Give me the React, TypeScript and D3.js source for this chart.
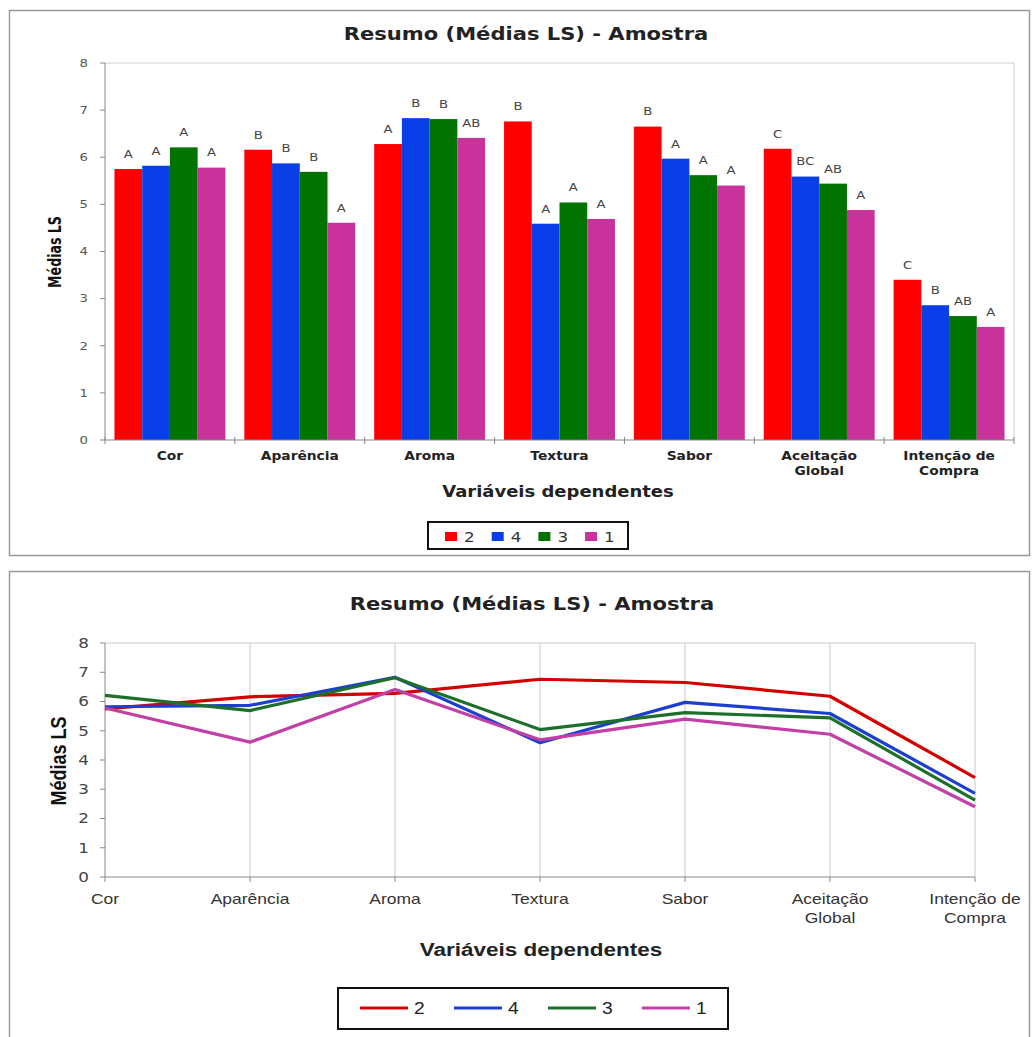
import React from "react";
import * as d3 from "d3";

const categories = ["Cor", "Aparência", "Aroma", "Textura", "Sabor", "Aceitação Global", "Intenção de Compra"];
const categoryLines = [["Cor"], ["Aparência"], ["Aroma"], ["Textura"], ["Sabor"], ["Aceitação", "Global"], ["Intenção de", "Compra"]];
const seriesNames = ["2", "4", "3", "1"];

const amostra2 = [5.75, 6.16, 6.28, 6.76, 6.65, 6.18, 3.40];
const amostra4 = [5.82, 5.87, 6.83, 4.59, 5.97, 5.59, 2.86];
const amostra3 = [6.21, 5.69, 6.81, 5.04, 5.62, 5.44, 2.63];
const amostra1 = [5.78, 4.61, 6.41, 4.69, 5.40, 4.88, 2.40];

const letras2 = ["A", "B", "A", "B", "B", "C", "C"];
const letras4 = ["A", "B", "B", "A", "A", "BC", "B"];
const letras3 = ["A", "B", "B", "A", "A", "AB", "AB"];
const letras1 = ["A", "A", "AB", "A", "A", "A", "A"];

const yTicks = [0, 1, 2, 3, 4, 5, 6, 7, 8];

const barColors = ["#ff0000", "#0a3ee6", "#007300", "#c8329a"];
const lineColors = ["#d40000", "#1c3fcf", "#1d6f2a", "#c13fa6"];

const seriesValues = [amostra2, amostra4, amostra3, amostra1];
const seriesLetters = [letras2, letras4, letras3, letras1];

const title = "Resumo (Médias LS) - Amostra";
const yTitle = "Médias LS";
const xTitle = "Variáveis dependentes";

const DV = "'DejaVu Sans', Verdana, sans-serif";
const LIB = "'Liberation Sans', Arial, sans-serif";
const COND = "'DejaVu Sans Condensed', 'Liberation Sans Narrow', 'Arial Narrow', sans-serif";

function T({ x, y, sx = 1.2, rotate = 0, anchor = "middle", size = 12, weight = "normal", family = DV, fill = "#222", children }: any) {
  return (
    <g transform={`translate(${x},${y}) scale(${sx},1)${rotate ? ` rotate(${rotate})` : ""}`}>
      <text textAnchor={anchor} fontSize={size} fontWeight={weight} fontFamily={family} fill={fill} dy="0.35em" fontStretch={family === COND ? "condensed" : undefined}>
        {children}
      </text>
    </g>
  );
}

function BarChart() {
  const left = 105, right = 1014, top = 63, bottom = 440;
  const x0 = d3.scaleBand<string>().domain(categories).range([left, right]).paddingInner(0.146).paddingOuter(0.073);
  const x1 = d3.scaleBand<string>().domain(seriesNames).range([0, x0.bandwidth()]);
  const y = d3.scaleLinear().domain([0, 8]).range([bottom, top]);
  const step = x0.step();
  const boundaries = d3.range(categories.length + 1).map((i) => left + i * (right - left) / categories.length);
  return (
    <g>
      <rect x={9.5} y={10.5} width={1020} height={545} fill="#fff" stroke="#9a9a9a" strokeWidth={1.5} />
      <T x={526} y={34} sx={1.24} size={17} weight="bold">{title}</T>
      <line x1={left} x2={right} y1={top} y2={top} stroke="#d0d0d0" />
      <line x1={right} x2={right} y1={top} y2={bottom} stroke="#d0d0d0" />
      {seriesValues.map((vals, si) =>
        vals.map((v, ci) => (
          <rect key={`b${si}-${ci}`} x={(x0(categories[ci]) as number) + (x1(seriesNames[si]) as number)} y={y(v)} width={x1.bandwidth()} height={y(0) - y(v)} fill={barColors[si]} />
        ))
      )}
      {seriesValues.map((vals, si) =>
        vals.map((v, ci) => (
          <T key={`l${si}-${ci}`} x={(x0(categories[ci]) as number) + (x1(seriesNames[si]) as number) + x1.bandwidth() / 2} y={y(v) - 15} size={11} fill="#444">
            {seriesLetters[si][ci]}
          </T>
        ))
      )}
      <line x1={left} x2={left} y1={top} y2={bottom} stroke="#888" />
      <line x1={left} x2={right} y1={bottom} y2={bottom} stroke="#888" />
      {yTicks.map((t) => (
        <g key={`yt${t}`}>
          <line x1={left - 5} x2={left} y1={y(t)} y2={y(t)} stroke="#888" />
          <T x={88} y={y(t)} anchor="end" size={11} fill="#555">{t}</T>
        </g>
      ))}
      {boundaries.map((b, i) => (
        <line key={`xb${i}`} x1={b} x2={b} y1={bottom - 3} y2={bottom + 4} stroke="#888" />
      ))}
      {categoryLines.map((lines, ci) =>
        lines.map((ln, li) => (
          <T key={`xl${ci}-${li}`} x={(x0(categories[ci]) as number) + x0.bandwidth() / 2} y={456 + li * 15} size={11.5} weight="bold" fill="#222">{ln}</T>
        ))
      )}
      <T x={558} y={492} size={15} weight="bold" fill="#222">{xTitle}</T>
      <T x={55} y={252} sx={1.2} rotate={-90} size={14} weight="bold" family={COND} fill="#111">{yTitle}</T>
      <rect x={428} y={522} width={200} height={27} fill="#fff" stroke="#111" strokeWidth={2} />
      {seriesNames.map((s, i) => (
        <g key={`lg${s}`}>
          <rect x={445 + i * 46.7} y={532} width={12} height={9} fill={barColors[i]} />
          <T x={464 + i * 46.7} y={537} anchor="start" size={14} fill="#333">{s}</T>
        </g>
      ))}
      {step ? null : null}
    </g>
  );
}

function LineChart() {
  const left = 105, right = 975, top = 643, bottom = 877;
  const x = d3.scalePoint<string>().domain(categories).range([left, right]);
  const y = d3.scaleLinear().domain([0, 8]).range([bottom, top]);
  const line = d3.line<number>().x((_, i) => x(categories[i]) as number).y((d) => y(d));
  return (
    <g>
      <rect x={9.5} y={571.5} width={1020} height={480} fill="#fff" stroke="#9a9a9a" strokeWidth={1.5} />
      <T x={532} y={604} sx={1.17} size={18} weight="bold">{title}</T>
      <line x1={left} x2={right} y1={top} y2={top} stroke="#c8c8c8" />
      {categories.slice(1).map((c) => (
        <line key={`g${c}`} x1={x(c)} x2={x(c)} y1={top} y2={bottom} stroke="#c8c8c8" />
      ))}
      <line x1={left} x2={left} y1={top} y2={bottom} stroke="#888" />
      <line x1={left} x2={right} y1={bottom} y2={bottom} stroke="#888" />
      {yTicks.map((t) => (
        <g key={`yt${t}`}>
          <line x1={left - 5} x2={left} y1={y(t)} y2={y(t)} stroke="#888" />
          <T x={89} y={y(t)} anchor="end" size={14} fill="#444">{t}</T>
        </g>
      ))}
      {categories.map((c) => (
        <line key={`xt${c}`} x1={x(c)} x2={x(c)} y1={bottom} y2={bottom + 5} stroke="#888" />
      ))}
      {seriesValues.map((vals, si) => (
        <path key={`p${si}`} d={line(vals) as string} fill="none" stroke={lineColors[si]} strokeWidth={3.2} strokeLinejoin="round" />
      ))}
      {categoryLines.map((lines, ci) =>
        lines.map((ln, li) => (
          <T key={`xl${ci}-${li}`} x={x(categories[ci]) as number} y={899 + li * 19} sx={1.25} size={14} family={LIB} fill="#333">{ln}</T>
        ))
      )}
      <T x={541} y={950} sx={1.25} size={18} weight="bold" family={LIB} fill="#222">{xTitle}</T>
      <T x={58} y={761} sx={1.2} rotate={-90} size={18} weight="bold" family={LIB} fill="#111">{yTitle}</T>
      <rect x={338} y={988} width={390} height={41} fill="#fff" stroke="#111" strokeWidth={2} />
      {seriesNames.map((s, i) => (
        <g key={`lg${s}`}>
          <line x1={360 + i * 94} x2={408 + i * 94} y1={1008} y2={1008} stroke={lineColors[i]} strokeWidth={3.2} />
          <T x={414 + i * 94} y={1008} anchor="start" sx={1.2} size={16} family={LIB} fill="#222">{s}</T>
        </g>
      ))}
    </g>
  );
}

export default function App() {
  return (
    <svg width={1034} height={1037} style={{ position: "absolute", left: 0, top: 0, background: "#fff" }}>
      <rect x={0} y={0} width={1034} height={1037} fill="#fff" />
      <BarChart />
      <LineChart />
    </svg>
  );
}
